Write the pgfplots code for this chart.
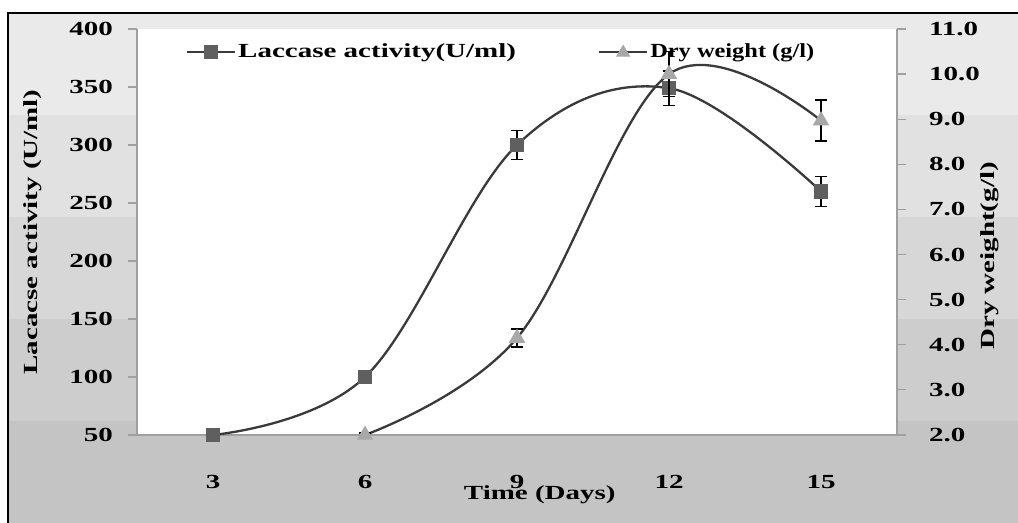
\documentclass[border=0pt]{standalone}
\usepackage{pgfplots}
\pgfplotsset{compat=1.18}
\usepackage{fontspec}
\setmainfont{Liberation Serif}[FakeStretch=1.45]
\newfontfamily\narrowfont{Liberation Serif}[FakeStretch=1.22]
\definecolor{axgray}{HTML}{A0A0A0}
\definecolor{linec}{HTML}{3A3A3A}
\definecolor{sqc}{HTML}{5F5F5F}
\definecolor{trc}{HTML}{A8A8A8}
\begin{document}
\begin{tikzpicture}[font=\bfseries]
\useasboundingbox (0,0) rectangle (509pt,261.5pt);
\fill[fill={rgb,255:red,196;green,196;blue,196}] (4pt,0pt) rectangle (509pt,52pt);
\fill[fill={rgb,255:red,205;green,205;blue,205}] (4pt,51pt) rectangle (509pt,103pt);
\fill[fill={rgb,255:red,215;green,215;blue,215}] (4pt,102pt) rectangle (509pt,154pt);
\fill[fill={rgb,255:red,225;green,225;blue,225}] (4pt,153pt) rectangle (509pt,205pt);
\fill[fill={rgb,255:red,234;green,234;blue,234}] (4pt,204pt) rectangle (509pt,255pt);
\draw[line width=1pt] (4pt,0) -- (4pt,255pt) -- (509pt,255pt);
\begin{axis}[
  at={(68.5pt,44pt)}, anchor=south west,
  scale only axis, width=380pt, height=203pt,
  xmin=1.5, xmax=16.5, ymin=50, ymax=400,
  axis x line*=bottom, axis y line*=left,
  axis line style={axgray, line width=0.8pt},
  axis background/.style={fill=white},
  xtick={3,6,9,12,15}, major tick length=4.5pt,
  xtick style={draw=none},
  ytick={50,100,...,400},
  tick align=outside,
  every y tick/.style={axgray, line width=0.6pt},
  yticklabel style={font=\bfseries\fontsize{10}{12}\selectfont, xshift=-4pt},
  xticklabel style={font=\bfseries\fontsize{10}{12}\selectfont, yshift=-12pt},
  /pgf/number format/assume math mode=true,
  xlabel={Time (Days)},
  xlabel style={font=\bfseries\fontsize{10}{12}\selectfont, at={(axis description cs:0.53,-0.148)}, anchor=center},
  ylabel={Lacacse activity (U/ml)},
  ylabel style={font=\bfseries\fontsize{10}{12}\selectfont, at={(axis description cs:-0.137,0.5)}, anchor=center},
  legend style={at={(axis description cs:0.064,0.943)}, anchor=west, draw=none, fill=none,
    font=\bfseries\fontsize{10}{12}\selectfont, legend columns=2,
    /tikz/every even column/.append style={column sep=40pt},
    inner sep=0pt, nodes={inner sep=1pt}},
  legend cell align=left,
  clip=false,
]
\addplot[linec, line width=1.15pt, smooth, tension=0.6,
  mark=square*, mark size=3pt, mark options={fill=sqc, draw=sqc},
  legend image code/.code={
    \draw[linec, line width=1.1pt] (0pt,0pt) -- (24pt,0pt);
    \fill[sqc] (9pt,-3pt) rectangle (15pt,3pt);},
  error bars/.cd, y dir=both, y explicit,
  error bar style={black, line width=0.8pt},
  error mark options={black, line width=0.8pt, rotate=90, mark size=2.8pt}]
  coordinates {(3,50) +- (0,0.5) (6,100) +- (0,0.5) (9,300) +- (0,12.5) (12,349) +- (0,15) (15,260) +- (0,13)};
\addlegendentry{Laccase activity(U/ml)}
\addlegendimage{legend image code/.code={
  \draw[linec, line width=1.1pt] (0pt,0pt) -- (24pt,0pt);
  \fill[trc] (12pt,3.4pt) -- (8.8pt,-2pt) -- (15.2pt,-2pt) -- cycle;}}
\addlegendentry{\narrowfont\bfseries Dry weight (g/l)}
\end{axis}
\begin{axis}[
  at={(68.5pt,44pt)}, anchor=south west,
  scale only axis, width=380pt, height=203pt,
  xmin=1.5, xmax=16.5, ymin=2, ymax=11,
  axis x line=none, axis y line*=right,
  axis line style={axgray, line width=0.8pt},
  ytick={2,3,...,11},
  tick align=outside, major tick length=4.5pt,
  every y tick/.style={axgray, line width=0.6pt},
  yticklabel style={font=\bfseries\fontsize{10}{12}\selectfont, xshift=8pt,
    /pgf/number format/.cd, fixed, fixed zerofill, precision=1},
  /pgf/number format/assume math mode=true,
  ylabel={Dry weight(g/l)},
  ylabel style={font=\bfseries\fontsize{10}{12}\selectfont, at={(axis description cs:1.122,0.441)}, anchor=center},
  clip=false,
]
\addplot[linec, line width=1.15pt, smooth, tension=0.6,
  mark=triangle*, mark size=3.6pt, mark options={fill=trc, draw=trc},
  error bars/.cd, y dir=both, y explicit,
  error bar style={black, line width=0.8pt},
  error mark options={black, line width=0.8pt, rotate=90, mark size=2.8pt}]
  coordinates {(6,2.0) +- (0,0.04) (9,4.15) +- (0,0.2) (12,10.0) +- (0,0.5) (15,8.97) +- (0,0.45)};
\end{axis}
\end{tikzpicture}
\end{document}
